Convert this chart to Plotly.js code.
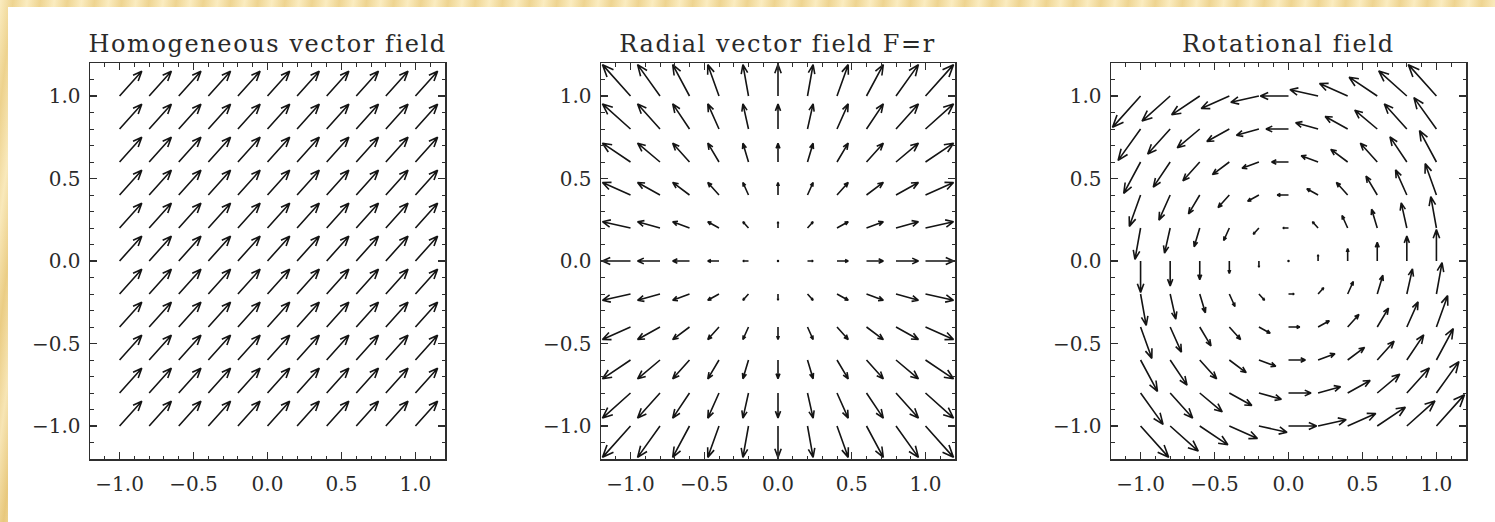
<!DOCTYPE html>
<html>
<head>
<meta charset="utf-8">
<script src="https://cdn.plot.ly/plotly-3.0.1.min.js"></script>
<style>
  html, body {
    margin: 0; padding: 0; width: 1495px; height: 522px; overflow: hidden;
    background-color: #f0d592;
    background-image:
      repeating-linear-gradient(97deg, rgba(255,246,214,0.55) 0px, rgba(226,190,104,0.35) 13px, rgba(255,246,214,0.55) 27px),
      linear-gradient(180deg, #f5e0a6, #ebcd86);
  }
  #chart { position: absolute; left: 8px; top: 7px; width: 1487px; height: 515px; background: #fff; }
  #chart .annotation-text { letter-spacing: 1.6px; }
</style>
</head>
<body>
<div id="chart"></div>
<script>
// Sample grid shared by the three fields (arrow tails sit on these points)
const gridX = [-1.0, -0.8, -0.6, -0.4, -0.2, 0.0, 0.2, 0.4, 0.6, 0.8, 1.0];
const gridY = [-1.0, -0.8, -0.6, -0.4, -0.2, 0.0, 0.2, 0.4, 0.6, 0.8, 1.0];

// Homogeneous field: identical displacement everywhere
const homogeneousU = 0.15;
const homogeneousV = 0.15;

// Radial field F = r: x-component per column, y-component per row
const radialU = [-0.19, -0.152, -0.114, -0.076, -0.038, 0.0, 0.038, 0.076, 0.114, 0.152, 0.19];
const radialV = [-0.19, -0.152, -0.114, -0.076, -0.038, 0.0, 0.038, 0.076, 0.114, 0.152, 0.19];

// Rotational field: x-component per row, y-component per column
const rotationalU = [0.19, 0.152, 0.114, 0.076, 0.038, 0.0, -0.038, -0.076, -0.114, -0.152, -0.19];
const rotationalV = [-0.19, -0.152, -0.114, -0.076, -0.038, 0.0, 0.038, 0.076, 0.114, 0.152, 0.19];

const panelTitles = ['Homogeneous vector field', 'Radial vector field F=r', 'Rotational field'];
const axisRange = [-1.2, 1.2];

// Component lookups (i = column index, j = row index)
const fields = [
  { u: (i, j) => homogeneousU, v: (i, j) => homogeneousV },
  { u: (i, j) => radialU[i], v: (i, j) => radialV[j] },
  { u: (i, j) => rotationalU[j], v: (i, j) => rotationalV[i] }
];

// Arrow head: 30% of the shaft, barbs at 22.5 degrees
const HEAD_FRAC = 0.3;
const HEAD_ANGLE = 22.5 * Math.PI / 180;
const INK = '#141414';

function buildArrows(field, k) {
  const xs = [], ys = [], dotX = [], dotY = [];
  const st = HEAD_FRAC * Math.sin(HEAD_ANGLE);
  const ct = HEAD_FRAC * Math.cos(HEAD_ANGLE);
  gridY.forEach((y0, j) => {
    gridX.forEach((x0, i) => {
      const dx = field.u(i, j), dy = field.v(i, j);
      if (dx === 0 && dy === 0) { dotX.push(x0); dotY.push(y0); return; }
      const x1 = x0 + dx, y1 = y0 + dy;
      xs.push(x0, x1, x1 - (ct * dx - st * dy), x1, x1 - (ct * dx + st * dy), null);
      ys.push(y0, y1, y1 - (ct * dy + st * dx), y1, y1 - (ct * dy - st * dx), null);
    });
  });
  const suffix = k === 0 ? '' : String(k + 1);
  const traces = [{
    type: 'scatter', mode: 'lines', x: xs, y: ys,
    xaxis: 'x' + suffix, yaxis: 'y' + suffix,
    line: { color: INK, width: 1.6, simplify: false },
    hoverinfo: 'skip', showlegend: false
  }];
  if (dotX.length) {
    traces.push({
      type: 'scatter', mode: 'markers', x: dotX, y: dotY,
      xaxis: 'x' + suffix, yaxis: 'y' + suffix,
      marker: { color: INK, size: 2.5 },
      hoverinfo: 'skip', showlegend: false
    });
  }
  return traces;
}

const W = 1487, H = 515;
const xDomainsPx = [[82, 437], [593, 947], [1103, 1458]];
const yDomain = [63 / H, 459 / H];
const FONT = 'DejaVu Serif';
const FRAME = '#2e2e2e';

function makeAxis(domain, anchor, isX) {
  return {
    domain: domain, anchor: anchor, range: axisRange,
    tickmode: 'linear', tick0: 0, dtick: 0.5, tickformat: '.1f',
    ticks: 'inside', ticklen: 7, tickwidth: 1.1, tickcolor: FRAME,
    minor: { ticks: 'inside', ticklen: 3.5, tickwidth: 1, tickcolor: FRAME, dtick: 0.1, tick0: 0, showgrid: false },
    showline: true, linecolor: FRAME, linewidth: 1.5, mirror: 'allticks',
    showgrid: false, zeroline: false, fixedrange: true,
    tickfont: { family: FONT, size: 20, color: '#2a2a2a' },
    ticklabelstandoff: isX ? 6 : 4
  };
}

const data = [];
const layout = {
  width: W, height: H,
  margin: { l: 0, r: 0, t: 0, b: 0 },
  paper_bgcolor: '#ffffff', plot_bgcolor: '#ffffff',
  showlegend: false,
  annotations: []
};

fields.forEach((field, k) => {
  data.push(...buildArrows(field, k));
  const suffix = k === 0 ? '' : String(k + 1);
  const xd = [xDomainsPx[k][0] / W, xDomainsPx[k][1] / W];
  layout['xaxis' + suffix] = makeAxis(xd, 'y' + suffix, true);
  layout['yaxis' + suffix] = makeAxis(yDomain, 'x' + suffix, false);
  layout.annotations.push({
    text: panelTitles[k], showarrow: false,
    xref: 'paper', yref: 'paper',
    x: (xd[0] + xd[1]) / 2, y: yDomain[1],
    xanchor: 'center', yanchor: 'bottom', yshift: 3,
    font: { family: FONT, size: 24, color: '#2a2a2a' }
  });
});

Plotly.newPlot('chart', data, layout, { staticPlot: true, displayModeBar: false });
</script>
</body>
</html>
